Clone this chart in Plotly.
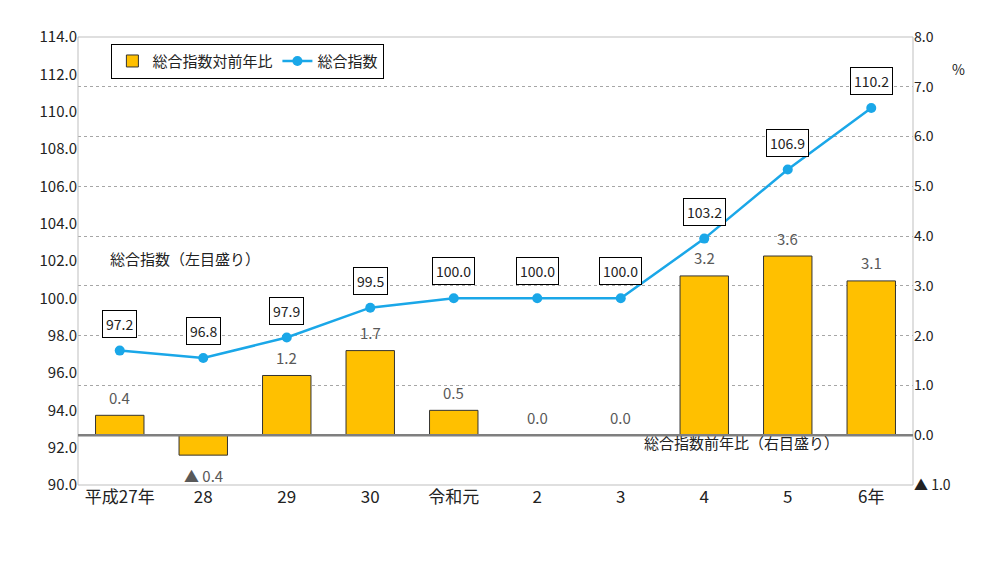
import plotly.graph_objects as go

categories = ["平成27年", "28", "29", "30", "令和元", "2", "3", "4", "5", "6年"]
index_values = [97.2, 96.8, 97.9, 99.5, 100.0, 100.0, 100.0, 103.2, 106.9, 110.2]
yoy_values = [0.4, -0.4, 1.2, 1.7, 0.5, 0.0, 0.0, 3.2, 3.6, 3.1]
left_ticks = [90 + 2 * i for i in range(13)]
right_ticks = [-1, 0, 1, 2, 3, 4, 5, 6, 7, 8]

def fmt(v):
    return ("▲ %.1f" % abs(v)) if v < 0 else "%.1f" % v

FONT = "Noto Sans CJK JP"
fig = go.Figure()
fig.add_trace(go.Bar(
    x=categories, y=yoy_values, yaxis="y", name="総合指数対前年比",
    marker=dict(color="#FFC000", line=dict(color="#333333", width=1)),
    width=0.58, cliponaxis=False,
))
fig.add_trace(go.Scatter(
    x=categories, y=index_values, yaxis="y2", name="総合指数",
    mode="lines+markers", line=dict(color="#1AA7E8", width=2.5),
    marker=dict(size=10, color="#1AA7E8"),
))
for i, v in enumerate(yoy_values):
    fig.add_annotation(x=i, y=max(v, 0) if v >= 0 else v, yref="y", text=fmt(v),
                       showarrow=False, yshift=(18 if v >= 0 else -20),
                       font=dict(size=15, color="#595959", family=FONT))
for i, v in enumerate(index_values):
    fig.add_annotation(x=i, y=v, yref="y2", text="%.1f" % v, showarrow=False,
                       yshift=27, bordercolor="#000", borderwidth=1, bgcolor="white",
                       borderpad=3, font=dict(size=14, color="#222", family=FONT))
fig.add_annotation(xref="paper", yref="paper", x=0.036, y=0.505, xanchor="left",
                   text="総合指数（左目盛り）", showarrow=False,
                   font=dict(size=15, color="#222", family=FONT))
fig.add_annotation(xref="paper", yref="paper", x=0.675, y=0.067, xanchor="left",
                   text="総合指数前年比（右目盛り）", showarrow=False,
                   font=dict(size=15, color="#222", family=FONT))
fig.add_annotation(xref="paper", yref="paper", x=1.065, y=0.955,
                   text="%", showarrow=False, font=dict(size=14, color="#222", family=FONT))
fig.add_shape(type="rect", xref="paper", yref="paper", x0=0, x1=1, y0=0, y1=1,
              line=dict(color="#BFBFBF", width=1))
fig.add_shape(type="line", xref="paper", yref="y", x0=0, x1=1, y0=0, y1=0,
              line=dict(color="#7F7F7F", width=2.5))

fig.update_layout(
    width=981, height=571, margin=dict(l=70, r=76, t=29, b=94),
    plot_bgcolor="white", paper_bgcolor="white",
    font=dict(family=FONT, color="#222"),
    xaxis=dict(type="category", range=[-0.5, 9.5], tickangle=0,
               tickfont=dict(size=17), showgrid=False, ticks=""),
    yaxis=dict(side="right", range=[-1, 8], tickvals=right_ticks,
               ticktext=[fmt(v) for v in right_ticks], tickfont=dict(size=14),
               showgrid=True, gridcolor="#A6A6A6", griddash="dot", zeroline=False),
    yaxis2=dict(side="left", overlaying="y", range=[90, 114], tickvals=left_ticks,
                ticktext=["%.1f" % v for v in left_ticks], tickfont=dict(size=15),
                showgrid=False, zeroline=False),
    legend=dict(orientation="h", x=0.04, y=0.985, xanchor="left", yanchor="top",
                bordercolor="#000", borderwidth=1, font=dict(size=15),
                bgcolor="white", traceorder="normal"),
)
fig.write_html("out.html")
